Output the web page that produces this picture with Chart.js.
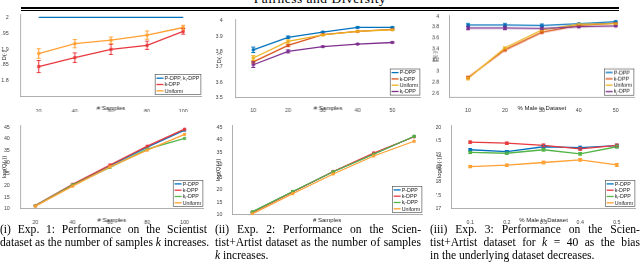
<!DOCTYPE html>
<html>
<head>
<meta charset="utf-8">
<script src="https://cdn.jsdelivr.net/npm/chart.js@4.4.1/dist/chart.umd.min.js"></script>
<style>
  html, body { margin: 0; padding: 0; background: #fff; }
  body { width: 640px; height: 263px; position: relative; overflow: hidden; font-family: "Liberation Serif", "DejaVu Serif", serif; color: #000; }
  .plot { position: absolute; }
  #figTitle { position: absolute; left: 0; width: 640px; top: -9px; text-align: center; font-size: 13.5px; letter-spacing: 0.5px; }
  .rule { position: absolute; left: 21px; width: 598px; background: #000; }
  .cap { position: absolute; font-size: 11.6px; line-height: 13px; top: 223px; }
  .cap div { text-align: justify; text-align-last: justify; white-space: nowrap; }
  .cap div.last { text-align-last: left; }
</style>
</head>
<body>
<div id="figTitle">Fairness and Diversity</div>
<div class="rule" style="top:7px;height:2px"></div>
<div class="rule" style="top:10px;height:1px"></div>

<canvas id="p1" class="plot"></canvas>
<canvas id="p2" class="plot"></canvas>
<canvas id="p3" class="plot"></canvas>
<canvas id="p4" class="plot"></canvas>
<canvas id="p5" class="plot"></canvas>
<canvas id="p6" class="plot"></canvas>

<div class="cap" style="left:0;width:207px">
  <div>(i) Exp. 1: Performance on the Scientist</div>
  <div>dataset as the number of samples <i>k</i> increases.</div>
</div>
<div class="cap" style="left:215px;width:206px">
  <div>(ii) Exp. 2: Performance on the Scien-</div>
  <div>tist+Artist dataset as the number of samples</div>
  <div class="last"><i>k</i> increases.</div>
</div>
<div class="cap" style="left:430px;width:210px">
  <div>(iii) Exp. 3: Performance on the Scien-</div>
  <div>tist+Artist dataset for <i>k</i> = 40 as the bias</div>
  <div class="last">in the underlying dataset decreases.</div>
</div>

<script>
/* ---------- data ---------- */
// (i) Scientist dataset, D(.) vs # samples
const p1X = [20, 40, 60, 80, 100];
const p1Pdpp = [2, 2, 2, 2, 2];
const p1Kdpp = [1.845, 1.873, 1.899, 1.912, 1.956];
const p1KdppErr = [0.019, 0.015, 0.016, 0.013, 0.009];
const p1Unif = [1.886, 1.917, 1.928, 1.944, 1.968];
const p1UnifErr = [0.015, 0.013, 0.010, 0.013, 0.007];
const p1YTicks = [1.8, 1.85, 1.9, 1.95, 2];

// (ii) Scientist+Artist, D(.) vs # samples
const p2X = [10, 20, 30, 40, 50];
const p2Pdpp = [3.81, 3.892, 3.926, 3.956, 3.956];
const p2PdppErr = [0.018, 0.008, 0.004, 0.004, 0.003];
const p2Kdpp = [3.732, 3.839, 3.909, 3.93, 3.943];
const p2KdppErr = [0.008, 0.008, 0.004, 0.003, 0.003];
const p2Unif = [3.757, 3.865, 3.907, 3.93, 3.941];
const p2UnifErr = [0.015, 0.01, 0.004, 0.003, 0.003];
const p2Ki = [3.713, 3.80, 3.831, 3.848, 3.858];
const p2KiErr = [0.018, 0.01, 0.003, 0.003, 0.003];
const p2YTicks = [3.5, 3.6, 3.7, 3.8, 3.9, 4];

// (iii) Scientist+Artist, D(.) vs % male
const p3X = [10, 20, 30, 40, 50];
const p3Pdpp = [3.837, 3.837, 3.83, 3.86, 3.9];
const p3PdppErr = [0.03, 0.03, 0.025, 0.01, 0.01];
const p3Kdpp = [2.885, 3.384, 3.705, 3.83, 3.87];
const p3KdppErr = [0.02, 0.02, 0.015, 0.01, 0.01];
const p3Unif = [2.865, 3.42, 3.745, 3.85, 3.86];
const p3UnifErr = [0.02, 0.02, 0.015, 0.01, 0.01];
const p3Ki = [3.785, 3.785, 3.775, 3.805, 3.82];
const p3KiErr = [0.03, 0.03, 0.02, 0.01, 0.01];
const p3YTicks = [2.6, 2.8, 3, 3.2, 3.4, 3.6, 3.8, 4];

// (i) bottom: log(Q(.)) vs # samples
const p4Pdpp = [11.3, 20.3, 28.5, 36.5, 43.8];
const p4Kdpp = [11.3, 20.5, 28.8, 36.9, 44.2];
const p4Ki = [11.2, 20.2, 27.8, 35.6, 40.2];
const p4Unif = [11.1, 19.7, 28.0, 35.2, 42.0];
const logQTicks = [10, 15, 20, 25, 30, 35, 40, 45];

// (ii) bottom
const p5Pdpp = [11.0, 19.2, 27.2, 34.3, 41.3];
const p5Kdpp = [10.9, 19.1, 27.3, 34.7, 41.2];
const p5Ki = [11.1, 19.3, 27.2, 34.2, 41.4];
const p5Unif = [10.3, 18.4, 26.3, 33.5, 39.4];

// (iii) bottom: log(Q(.)) vs % male
const p6X = [0.1, 0.2, 0.3, 0.4, 0.5];
const p6Pdpp = [19.17, 19.10, 19.28, 19.25, 19.32];
const p6Kdpp = [19.45, 19.41, 19.33, 19.20, 19.33];
const p6Ki = [19.07, 19.04, 19.17, 19.02, 19.28];
const p6Unif = [18.55, 18.60, 18.70, 18.80, 18.61];
const p6Err = [0.04, 0.04, 0.05, 0.05, 0.05];
const p6YTicks = [17, 17.5, 18, 18.5, 19, 19.5, 20];

/* ---------- colours ---------- */
const BLUE = "#0072BD";
const RED = "#E8383D";
const ORANGE = "#FFA033";
const GREEN = "#55B548";
const MRED = "#D95319";
const MYELLOW = "#EDB120";
const MPURPLE = "#7E2F8E";
const SANS = "'Liberation Sans', Arial, sans-serif";

/* ---------- helpers ---------- */
function series(label, xs, ys, color, errs, marker) {
  return {
    label: label,
    data: xs.map((x, i) => ({ x: x, y: ys[i] })),
    errs: errs || null,
    borderColor: color,
    backgroundColor: color,
    borderWidth: 1.3,
    pointStyle: "rect",
    pointRadius: marker === false ? 0 : 1.6,
    pointBorderWidth: 0.8,
    tension: 0
  };
}

// "_i" in a label means subscript i
function labelWidth(ctx, text, size) {
  const parts = text.split("_i");
  let w = 0;
  parts.forEach((p, i) => {
    ctx.font = size + "px " + SANS;
    w += ctx.measureText(p).width;
    if (i < parts.length - 1) { ctx.font = (size * 0.7) + "px " + SANS; w += ctx.measureText("i").width; }
  });
  return w;
}
function drawLabel(ctx, text, x, y, size) {
  const parts = text.split("_i");
  parts.forEach((p, i) => {
    ctx.font = size + "px " + SANS;
    ctx.fillText(p, x, y);
    x += ctx.measureText(p).width;
    if (i < parts.length - 1) {
      ctx.font = (size * 0.7) + "px " + SANS;
      ctx.fillText("i", x, y + size * 0.3);
      x += ctx.measureText("i").width;
    }
  });
}

const errorBars = {
  id: "errorBars",
  afterDatasetsDraw(chart) {
    const ctx = chart.ctx, xs = chart.scales.x, ys = chart.scales.y;
    chart.data.datasets.forEach(d => {
      if (!d.errs) return;
      ctx.save();
      ctx.strokeStyle = d.borderColor;
      ctx.lineWidth = 1;
      d.data.forEach((p, i) => {
        const e = d.errs[i];
        if (!e) return;
        const px = xs.getPixelForValue(p.x);
        const y0 = ys.getPixelForValue(p.y - e), y1 = ys.getPixelForValue(p.y + e);
        ctx.beginPath();
        ctx.moveTo(px, y0); ctx.lineTo(px, y1);
        ctx.moveTo(px - 2, y0); ctx.lineTo(px + 2, y0);
        ctx.moveTo(px - 2, y1); ctx.lineTo(px + 2, y1);
        ctx.stroke();
      });
      ctx.restore();
    });
  }
};

const boxLegend = {
  id: "boxLegend",
  afterDatasetsDraw(chart) {
    const ctx = chart.ctx, area = chart.chartArea;
    const size = 5.3, rowH = 6.3;
    const items = chart.data.datasets;
    ctx.save();
    const tw = Math.max(...items.map(d => labelWidth(ctx, d.label, size)));
    const w = 9.5 + tw + 2, h = items.length * rowH + 1.5;
    const x = area.right - w, y = area.bottom - h - 2;
    ctx.fillStyle = "#fff";
    ctx.fillRect(x, y, w, h);
    ctx.strokeStyle = "#444";
    ctx.lineWidth = 0.6;
    ctx.strokeRect(x + 0.3, y + 0.3, w - 0.6, h - 0.6);
    ctx.textBaseline = "middle";
    items.forEach((d, i) => {
      const cy = y + 0.75 + rowH * (i + 0.5);
      ctx.strokeStyle = d.borderColor;
      ctx.lineWidth = 1.3;
      ctx.beginPath(); ctx.moveTo(x + 1.5, cy); ctx.lineTo(x + 8.5, cy); ctx.stroke();
      ctx.fillStyle = "#222";
      drawLabel(ctx, d.label, x + 9.5, cy + 0.3, size);
    });
    ctx.restore();
  }
};

// box: plot area in page px (L,T,R,B), yW = y axis band, xH = x axis band
function makePanel(id, box, datasets, xr, yr, xTicks, yTicks, xTitle, yTitle) {
  const padT = 6, padR = 3;
  const cv = document.getElementById(id);
  const W = box.yW + (box.R - box.L) + padR;
  const H = padT + (box.B - box.T) + box.xH;
  cv.style.left = (box.L - box.yW) + "px";
  cv.style.top = (box.T - padT) + "px";
  cv.style.width = W + "px";
  cv.style.height = H + "px";
  cv.width = W; cv.height = H;
  datasets.forEach((d, i) => { d.order = -i; });

  const tickFont = { family: SANS, size: 5.3 };
  const titleFont = { family: SANS, size: 6 };
  new Chart(cv, {
    type: "line",
    data: { datasets: datasets },
    options: {
      responsive: false,
      animation: false,
      devicePixelRatio: 1,
      layout: { padding: { top: padT, right: padR, left: 0, bottom: 0 } },
      plugins: { legend: { display: false }, tooltip: { enabled: false } },
      scales: {
        x: {
          type: "linear", min: xr[0], max: xr[1],
          grid: { display: false },
          border: { display: true, color: "#9a9a9a", width: 0.8 },
          afterBuildTicks: s => { s.ticks = xTicks.map(v => ({ value: v })); },
          afterFit: s => { s.height = box.xH; },
          ticks: { display: box.xLabels !== false, font: tickFont, color: "#444", padding: box.tp, maxRotation: 0, autoSkip: false, callback: v => String(v) },
          title: { display: true, text: xTitle, font: titleFont, color: "#222", padding: 0 }
        },
        y: {
          type: "linear", min: yr[0], max: yr[1],
          grid: { display: false },
          border: { display: true, color: "#9a9a9a", width: 0.8 },
          afterBuildTicks: s => { s.ticks = yTicks.map(v => ({ value: v })); },
          afterFit: s => { s.width = box.yW; },
          ticks: { font: tickFont, color: "#444", padding: box.ytp, autoSkip: false, callback: v => String(v) },
          title: { display: true, text: yTitle, font: titleFont, color: "#222", padding: 0 }
        }
      }
    },
    plugins: [errorBars, boxLegend]
  });
}

/* ---------- panels ---------- */
makePanel("p1", { L: 21, T: 12.5, R: 203, B: 97, yW: 19.6, ytp: 4, xH: 15.3, tp: 3.5 }, [
  series("P-DPP, k_i-DPP", p1X, p1Pdpp, BLUE, null, false),
  series("k-DPP", p1X, p1Kdpp, RED, p1KdppErr),
  series("Uniform", p1X, p1Unif, ORANGE, p1UnifErr)
], [10, 110], [1.75, 2.01], p1X, p1YTicks, "# Samples", "D(\u00b7)");

makePanel("p2", { L: 235.7, T: 16.7, R: 421.7, B: 97.3, yW: 19.8, ytp: 5, xH: 14.6, tp: 1.5 }, [
  series("P-DPP", p2X, p2Pdpp, BLUE, p2PdppErr),
  series("k-DPP", p2X, p2Kdpp, MRED, p2KdppErr),
  series("Uniform", p2X, p2Unif, MYELLOW, p2UnifErr),
  series("k_i-DPP", p2X, p2Ki, MPURPLE, p2KiErr)
], [5, 58], [3.5, 4.01], p2X, p2YTicks, "# Samples", "D(\u00b7)");

makePanel("p3", { L: 450, T: 15, R: 636.5, B: 97.5, yW: 17.6, ytp: 2.3, xH: 14.4, tp: 1.5 }, [
  series("P-DPP", p3X, p3Pdpp, BLUE, p3PdppErr),
  series("k-DPP", p3X, p3Kdpp, MRED, p3KdppErr),
  series("Uniform", p3X, p3Unif, MYELLOW, p3UnifErr),
  series("k_i-DPP", p3X, p3Ki, MPURPLE, p3KiErr)
], [5, 55], [2.52, 4.02], p3X, p3YTicks, "% Male in Dataset", "D(\u00b7)");

makePanel("p4", { L: 20.7, T: 125, R: 205, B: 209, yW: 19.3, ytp: 2.5, xH: 15.3, tp: 2.8 }, [
  series("P-DPP", p1X, p4Pdpp, BLUE),
  series("k-DPP", p1X, p4Kdpp, RED),
  series("k_i-DPP", p1X, p4Ki, GREEN),
  series("Uniform", p1X, p4Unif, ORANGE)
], [12, 110], [10, 46], p1X, logQTicks, "# Samples", "log(Q(\u00b7))");

makePanel("p5", { L: 231.7, T: 125, R: 424, B: 215, yW: 17, ytp: 1.5, xH: 9.3, tp: 2, xLabels: false }, [
  series("P-DPP", p2X, p5Pdpp, BLUE),
  series("k-DPP", p2X, p5Kdpp, RED),
  series("k_i-DPP", p2X, p5Ki, GREEN),
  series("Uniform", p2X, p5Unif, ORANGE)
], [5, 52], [10, 45.9], p2X, logQTicks, "# Samples", "log(Q(\u00b7))");

makePanel("p6", { L: 451.7, T: 125, R: 637.3, B: 209, yW: 15.8, ytp: 2.5, xH: 15.3, tp: 2.8 }, [
  series("P-DPP", p6X, p6Pdpp, BLUE, p6Err),
  series("k-DPP", p6X, p6Kdpp, RED, p6Err),
  series("k_i-DPP", p6X, p6Ki, GREEN, p6Err),
  series("Uniform", p6X, p6Unif, ORANGE, p6Err)
], [0.05, 0.55], [17, 20.08], p6X, p6YTicks, "% Male in Dataset", "log(Q(\u00b7))");
</script>
</body>
</html>
